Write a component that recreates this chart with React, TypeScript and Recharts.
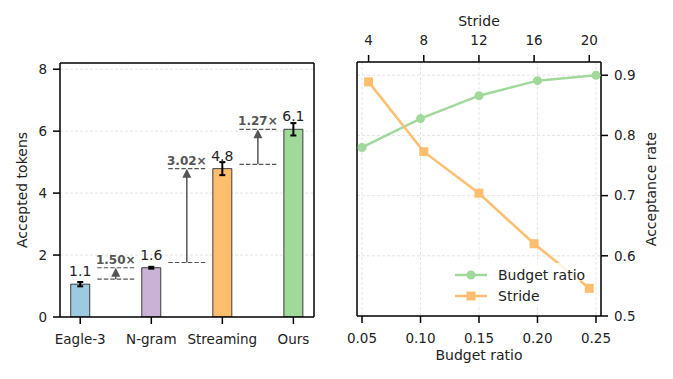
import React from 'react';
import {
  ComposedChart,
  Bar,
  Cell,
  ErrorBar,
  LabelList,
  XAxis,
  YAxis,
  CartesianGrid,
  ReferenceLine,
  Line,
} from 'recharts';

const FONT = '"DejaVu Sans", Verdana, sans-serif';

// Left panel data
const methods = ['Eagle-3', 'N-gram', 'Streaming', 'Ours'];
const accepted = [1.06, 1.59, 4.79, 6.06];
const acceptedErr = [0.07, 0.03, 0.21, 0.2];
const acceptedLabels = ['1.1', '1.6', '4.8', '6.1'];
const barColors = ['#9ecae1', '#cab2d6', '#fdbf6f', '#a1d99b'];
const leftYTicks = [0, 2, 4, 6, 8];

// Speed-up annotations between neighbouring bars
const speedupLabels = ['1.50×', '3.02×', '1.27×'];
const speedupFrom = [1.22, 1.76, 4.93];
const speedupTo = [1.59, 4.79, 6.06];

// Right panel data
const budgetRatios = [0.05, 0.1, 0.15, 0.2, 0.25];
const budgetAcceptance = [0.78, 0.828, 0.866, 0.891, 0.9];
const strides = [4, 8, 12, 16, 20];
const strideAcceptance = [0.889, 0.773, 0.704, 0.62, 0.546];
const rightYTicks = [0.5, 0.6, 0.7, 0.8, 0.9];

const GREEN = '#a1d99b';
const ORANGE = '#fdbf6f';
const ANN = '#555555';

const axisLineStyle = { stroke: '#000', strokeWidth: 1.5 };
const tickLineStyle = { stroke: '#000', strokeWidth: 1.5 };
const tickStyle = { fill: '#222', fontSize: 13.5, fontFamily: FONT };
const labelStyle = { fill: '#222', fontSize: 14, fontFamily: FONT, textAnchor: 'middle' as const };

const Arrow = (p: any) => {
  const x = p.x1;
  const top = Math.min(p.y1, p.y2);
  const bot = Math.max(p.y1, p.y2);
  const hl = 9;
  const hw = 4.5;
  return (
    <g>
      <line x1={x} x2={x} y1={bot} y2={top + hl - 1} stroke={ANN} strokeWidth={1.5} />
      <polygon points={`${x},${top} ${x - hw},${top + hl} ${x + hw},${top + hl}`} fill={ANN} />
    </g>
  );
};

const SquareDot = (props: any) => {
  const { cx, cy, index } = props;
  if (cx == null || cy == null) return <g key={index} />;
  return <rect key={index} x={cx - 4.5} y={cy - 4.5} width={9} height={9} fill={ORANGE} />;
};

export default function App() {
  const barData = methods.map((m, i) => ({
    x: i,
    name: m,
    value: accepted[i],
    err: acceptedErr[i],
    label: acceptedLabels[i],
  }));
  const budgetData = budgetRatios.map((x, i) => ({ x, y: budgetAcceptance[i] }));
  const strideData = strides.map((x, i) => ({ x, y: strideAcceptance[i] }));

  return (
    <div
      style={{
        position: 'absolute',
        left: 0,
        top: 0,
        width: 673,
        height: 379,
        background: '#fff',
        fontFamily: FONT,
        overflow: 'hidden',
      }}
    >
      <div style={{ position: 'absolute', left: 0, top: 0 }}>
        <ComposedChart
          width={330}
          height={379}
          data={barData}
          margin={{ top: 63, right: 16, bottom: 0, left: 0 }}
        >
          <CartesianGrid vertical={false} stroke="#dddddd" strokeDasharray="3 2" strokeWidth={0.8} />
          <XAxis
            dataKey="x"
            type="number"
            domain={[-0.285, 3.29]}
            ticks={[0, 1, 2, 3]}
            interval={0}
            allowDataOverflow
            tickFormatter={(v: number) => methods[Math.round(v)]}
            height={62}
            tickSize={7}
            tickMargin={10}
            axisLine={axisLineStyle}
            tickLine={tickLineStyle}
            tick={tickStyle}
          />
          <YAxis
            type="number"
            domain={[0, 8.2]}
            ticks={leftYTicks}
            interval={0}
            allowDataOverflow
            width={60}
            tickSize={7}
            tickMargin={6}
            axisLine={axisLineStyle}
            tickLine={tickLineStyle}
            tick={tickStyle}
            label={{
              value: 'Accepted tokens',
              angle: -90,
              position: 'insideLeft',
              offset: 22,
              style: labelStyle,
            }}
          />
          <ReferenceLine y={8.2} stroke="#000" strokeWidth={1.5} ifOverflow="visible" />
          <ReferenceLine x={3.29} stroke="#000" strokeWidth={1.5} ifOverflow="visible" />
          <Bar dataKey="value" barSize={19} isAnimationActive={false} stroke="#2a2a2a" strokeWidth={0.9}>
            {barData.map((d, i) => (
              <Cell key={d.name} fill={barColors[i]} />
            ))}
            <ErrorBar dataKey="err" width={3} stroke="#000" strokeWidth={2} isAnimationActive={false} />
            <LabelList
              dataKey="label"
              position="top"
              offset={8}
              style={{ fill: '#222', fontSize: 14, fontFamily: FONT }}
            />
          </Bar>
          {speedupLabels.map((lab, i) => {
            const cx = i + 0.5;
            return (
              <React.Fragment key={lab}>
                <ReferenceLine
                  segment={[
                    { x: cx - 0.26, y: speedupFrom[i] },
                    { x: cx + 0.26, y: speedupFrom[i] },
                  ]}
                  stroke={ANN}
                  strokeWidth={1.2}
                  strokeDasharray="4.5 2"
                  ifOverflow="visible"
                />
                <ReferenceLine
                  segment={[
                    { x: cx - 0.26, y: speedupTo[i] },
                    { x: cx + 0.26, y: speedupTo[i] },
                  ]}
                  stroke={ANN}
                  strokeWidth={1.2}
                  strokeDasharray="4.5 2"
                  ifOverflow="visible"
                  label={{
                    value: lab,
                    position: 'top',
                    offset: 4,
                    fill: ANN,
                    fontSize: 12,
                    fontWeight: 'bold',
                    fontFamily: FONT,
                  }}
                />
                <ReferenceLine
                  segment={[
                    { x: cx, y: speedupFrom[i] },
                    { x: cx, y: speedupTo[i] },
                  ]}
                  ifOverflow="visible"
                  shape={Arrow}
                />
              </React.Fragment>
            );
          })}
        </ComposedChart>
      </div>

      <div style={{ position: 'absolute', left: 330, top: 0 }}>
        <ComposedChart width={343} height={379} margin={{ top: 0, right: 0, bottom: 0, left: 27 }}>
          <CartesianGrid xAxisId="b" yAxisId="r" stroke="#dddddd" strokeDasharray="3 2" strokeWidth={0.8} />
          <XAxis
            xAxisId="b"
            dataKey="x"
            type="number"
            orientation="bottom"
            domain={[0.0457, 0.2543]}
            ticks={budgetRatios}
            interval={0}
            allowDataOverflow
            tickFormatter={(v: number) => v.toFixed(2)}
            height={63}
            tickSize={7}
            tickMargin={10}
            axisLine={axisLineStyle}
            tickLine={tickLineStyle}
            tick={tickStyle}
            label={{ value: 'Budget ratio', position: 'insideBottom', offset: 19, style: labelStyle }}
          />
          <XAxis
            xAxisId="s"
            dataKey="x"
            type="number"
            orientation="top"
            domain={[3.16, 20.85]}
            ticks={strides}
            interval={0}
            allowDataOverflow
            height={62}
            tickSize={7}
            tickMargin={10}
            axisLine={axisLineStyle}
            tickLine={tickLineStyle}
            tick={tickStyle}
            label={{ value: 'Stride', position: 'insideTop', offset: 16, style: labelStyle }}
          />
          <YAxis
            yAxisId="r"
            orientation="right"
            type="number"
            domain={[0.5, 0.922]}
            ticks={rightYTicks}
            interval={0}
            allowDataOverflow
            tickFormatter={(v: number) => v.toFixed(1)}
            width={72}
            tickSize={7}
            tickMargin={6}
            axisLine={axisLineStyle}
            tickLine={tickLineStyle}
            tick={tickStyle}
            label={{
              value: 'Acceptance rate',
              angle: -90,
              position: 'insideRight',
              offset: 22,
              style: labelStyle,
            }}
          />
          <ReferenceLine xAxisId="b" yAxisId="r" x={0.0457} stroke="#000" strokeWidth={1.5} ifOverflow="visible" />
          <Line
            xAxisId="b"
            yAxisId="r"
            data={budgetData}
            dataKey="y"
            name="Budget ratio"
            type="linear"
            stroke={GREEN}
            strokeWidth={2.5}
            dot={{ r: 4.5, fill: GREEN, stroke: GREEN, strokeWidth: 0 }}
            activeDot={false}
            isAnimationActive={false}
          />
          <Line
            xAxisId="s"
            yAxisId="r"
            data={strideData}
            dataKey="y"
            name="Stride"
            type="linear"
            stroke={ORANGE}
            strokeWidth={2.5}
            dot={SquareDot}
            activeDot={false}
            isAnimationActive={false}
          />
        </ComposedChart>
      </div>

      <div
        style={{
          position: 'absolute',
          left: 450,
          top: 263,
          width: 130,
          height: 44,
          background: 'rgba(255,255,255,0.8)',
          fontFamily: FONT,
          fontSize: 14,
          color: '#222',
        }}
      >
        <div style={{ position: 'absolute', left: 5, top: 2, height: 20, display: 'flex', alignItems: 'center' }}>
          <svg width={32} height={20}>
            <line x1={0} x2={32} y1={10} y2={10} stroke={GREEN} strokeWidth={2.5} />
            <circle cx={16} cy={10} r={4.5} fill={GREEN} />
          </svg>
          <span style={{ marginLeft: 11, lineHeight: '20px', whiteSpace: 'nowrap' }}>Budget ratio</span>
        </div>
        <div style={{ position: 'absolute', left: 5, top: 23, height: 20, display: 'flex', alignItems: 'center' }}>
          <svg width={32} height={20}>
            <line x1={0} x2={32} y1={10} y2={10} stroke={ORANGE} strokeWidth={2.5} />
            <rect x={11.5} y={5.5} width={9} height={9} fill={ORANGE} />
          </svg>
          <span style={{ marginLeft: 11, lineHeight: '20px', whiteSpace: 'nowrap' }}>Stride</span>
        </div>
      </div>
    </div>
  );
}
